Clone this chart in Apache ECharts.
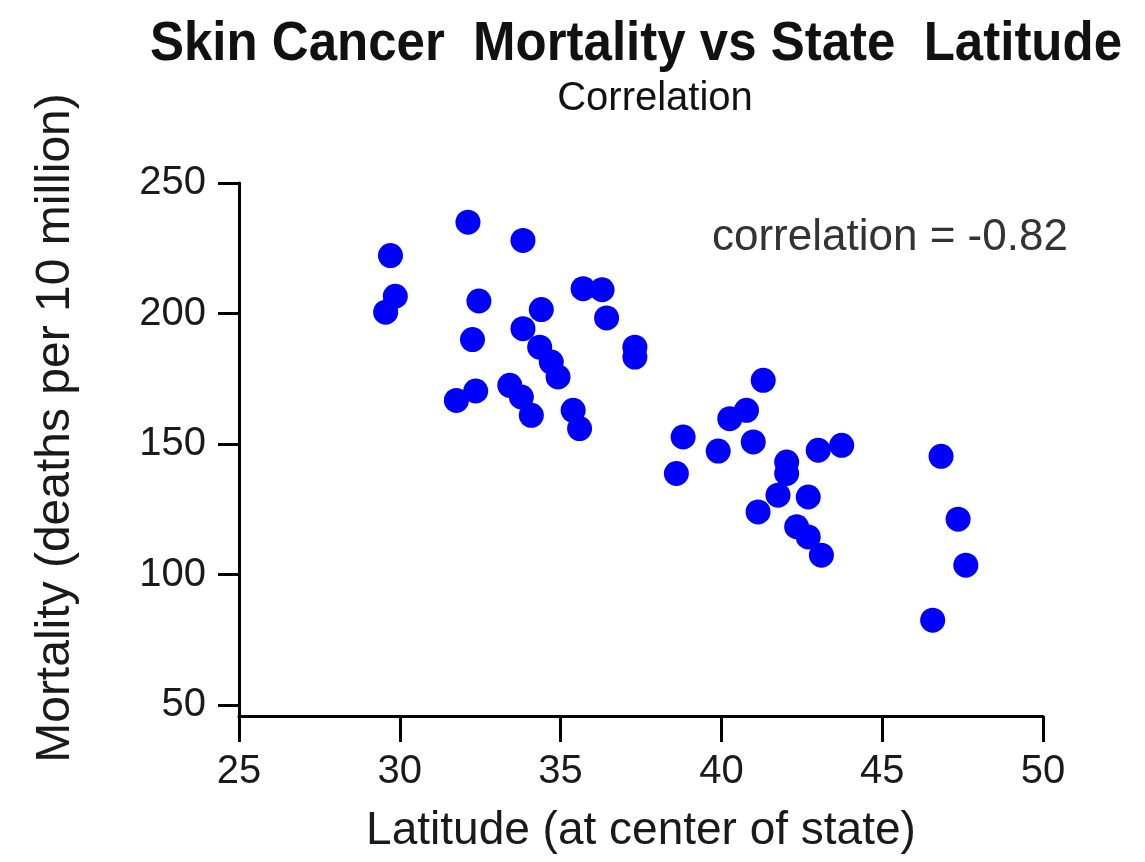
<!DOCTYPE html>
<html>
<head>
<meta charset="utf-8">
<title>Skin Cancer Mortality vs State Latitude</title>
<script src="https://cdn.jsdelivr.net/npm/echarts@6/dist/echarts.min.js"></script>
<style>
  html, body { margin: 0; padding: 0; background: #fff; }
  #main { width: 1145px; height: 862px; }
</style>
</head>
<body>
<div id="main"></div>
<script>
// latitude (deg) and mortality (deaths per 10 million)
var latitude = [32.12, 33.83, 29.71, 29.86, 29.56, 32.46, 34.40, 35.70, 36.29, 36.43,
  37.31, 37.31, 32.26, 33.83, 34.35, 34.71, 34.92, 33.42, 33.78, 34.09,
  35.39, 35.59, 31.76, 32.36, 41.30, 40.78, 40.26, 38.81, 39.90, 40.99,
  38.60, 42.03, 42.03, 43.01, 43.74, 41.76, 42.70, 41.14, 42.34, 42.70,
  43.11, 46.83, 47.36, 47.60, 46.57];
var mortality = [235.0, 228.0, 222.2, 206.6, 200.5, 204.8, 201.5, 209.5, 209.1, 198.3,
  187.1, 183.3, 190.0, 194.2, 187.1, 181.4, 175.7, 172.5, 168.0, 161.0,
  162.9, 155.9, 166.7, 170.3, 174.4, 162.9, 159.7, 152.7, 147.3, 150.8,
  138.7, 143.1, 138.7, 147.6, 149.5, 130.4, 129.7, 124.0, 118.3, 114.4,
  107.4, 145.3, 121.2, 103.6, 82.5];
var yTicks = [50, 100, 150, 200, 250];
var correlation = -0.82;

var FONT = "'Liberation Sans', Arial, Helvetica, sans-serif";

var chart = echarts.init(document.getElementById('main'), null, { renderer: 'canvas' });

var points = latitude.map(function (x, i) { return [x, mortality[i]]; });

var option = {
  backgroundColor: '#fff',
  animation: false,
  grid: { left: 239, right: 102, top: 183, bottom: 146 },
  xAxis: {
    type: 'value',
    min: 25,
    max: 50,
    interval: 5,
    name: 'Latitude (at center of state)',
    nameLocation: 'middle',
    nameGap: 92,
    nameTextStyle: { fontFamily: FONT, fontSize: 46, color: '#1a1a1a' },
    axisLine: { show: true, lineStyle: { color: '#000', width: 3 } },
    axisTick: { show: true, length: 26, lineStyle: { color: '#000', width: 3 } },
    axisLabel: { fontFamily: FONT, fontSize: 40, color: '#1a1a1a', margin: 36 },
    splitLine: { show: false }
  },
  yAxis: {
    type: 'value',
    min: 45.8,
    max: 250,
    axisLine: { show: true, lineStyle: { color: '#000', width: 3 } },
    axisTick: { show: true, length: 21, customValues: yTicks, lineStyle: { color: '#000', width: 3 } },
    axisLabel: { fontFamily: FONT, fontSize: 40, color: '#1a1a1a', margin: 33, customValues: yTicks },
    splitLine: { show: false }
  },
  graphic: [
    {
      type: 'text', x: 636, y: 45, scaleY: 1.08,
      style: { text: 'Skin Cancer  Mortality vs State  Latitude', font: 'bold 51px ' + FONT,
        fill: '#111', align: 'center', verticalAlign: 'middle' }
    },
    {
      type: 'text', x: 655, y: 99,
      style: { text: 'Correlation', font: '40px ' + FONT,
        fill: '#111', align: 'center', verticalAlign: 'middle' }
    },
    {
      type: 'text', x: 56, y: 428, rotation: Math.PI / 2,
      style: { text: 'Mortality (deaths per 10 million)', font: '48px ' + FONT,
        fill: '#1a1a1a', align: 'center', verticalAlign: 'middle' }
    },
    {
      type: 'text', x: 712, y: 238,
      style: { text: 'correlation = ' + correlation.toFixed(2), font: '44px ' + FONT,
        fill: '#333', align: 'left', verticalAlign: 'middle' }
    }
  ],
  series: [{
    type: 'scatter',
    data: points,
    symbol: 'circle',
    symbolSize: 25,
    itemStyle: { color: '#0000ff', opacity: 1 }
  }]
};

chart.setOption(option);
</script>
</body>
</html>
